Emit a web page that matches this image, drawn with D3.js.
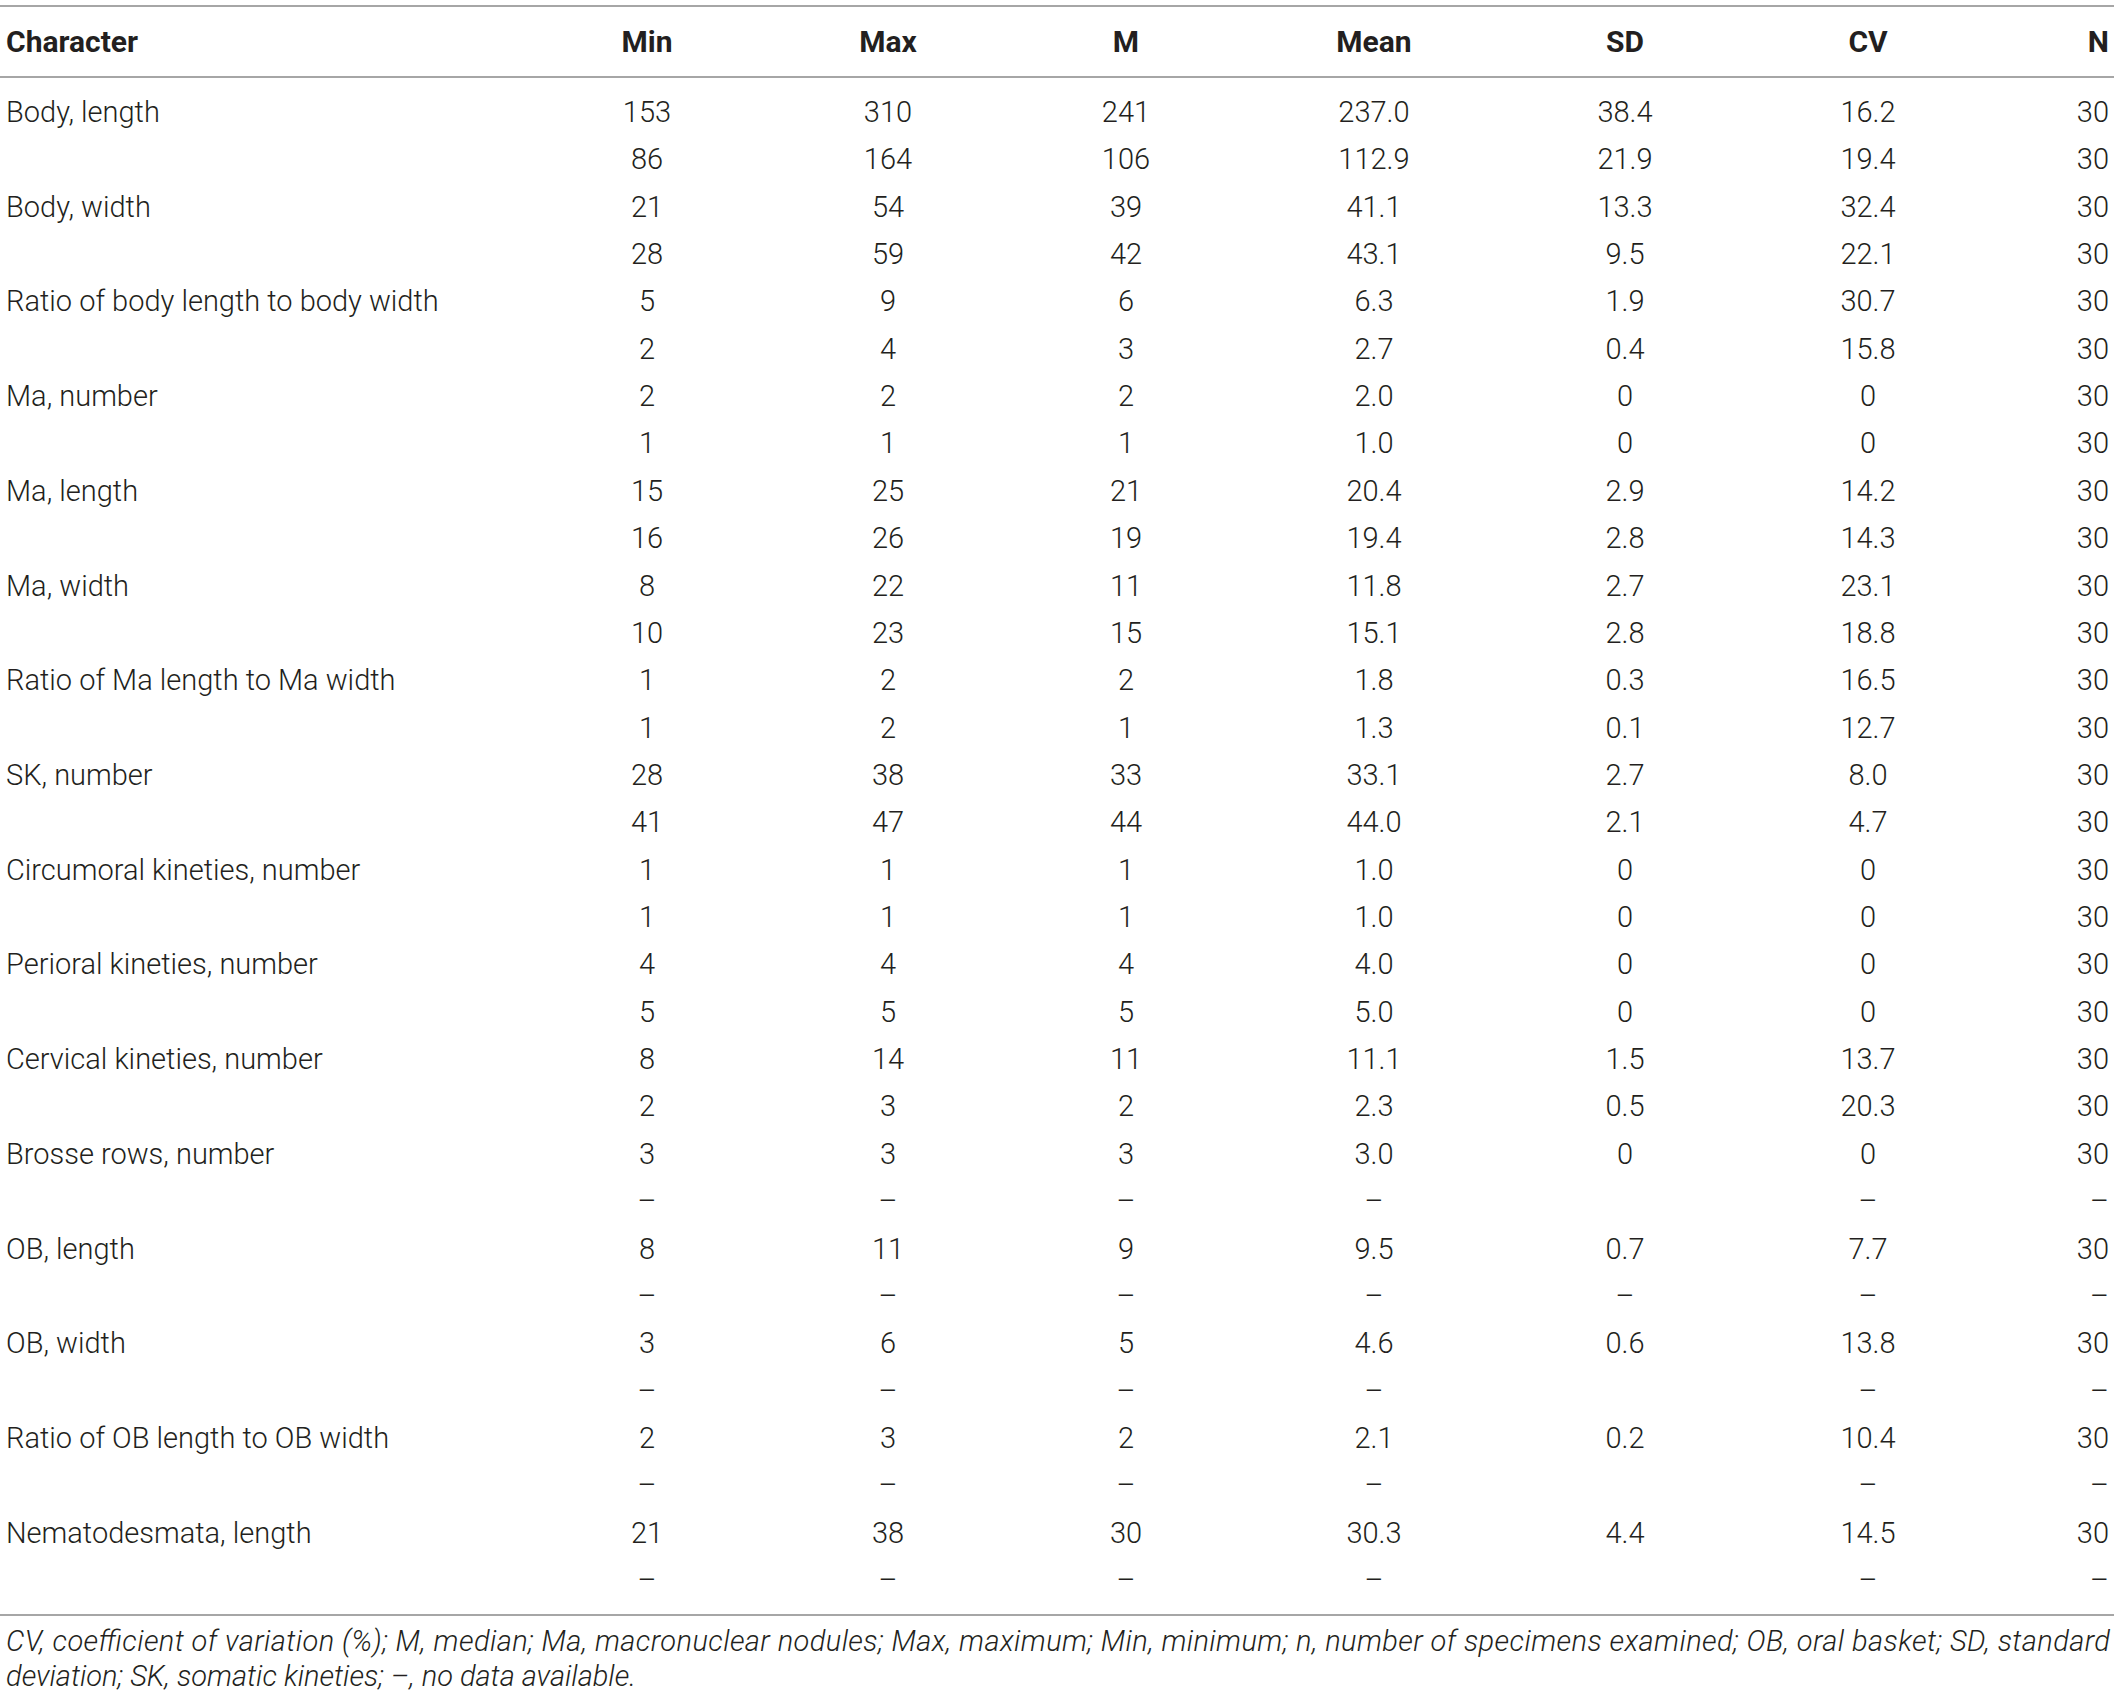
<!DOCTYPE html>
<html>
<head>
<meta charset="utf-8">
<script src="https://cdn.jsdelivr.net/npm/d3@7"></script>
<style>
  body { margin: 0; background: #fff; }
  text { fill: #231f20; }
</style>
</head>
<body>
<script>
var width = 2117;
var height = 1699;

// table data
var columns = ["Min", "Max", "M", "Mean", "SD", "CV", "N"];
var characters = [
  "Body, length", "Body, width", "Ratio of body length to body width",
  "Ma, number", "Ma, length", "Ma, width", "Ratio of Ma length to Ma width",
  "SK, number", "Circumoral kineties, number", "Perioral kineties, number",
  "Cervical kineties, number", "Brosse rows, number", "OB, length",
  "OB, width", "Ratio of OB length to OB width", "Nematodesmata, length"
];
// two rows per character, values in column order
var minVals  = ["153","86","21","28","5","2","2","1","15","16","8","10","1","1","28","41","1","1","4","5","8","2","3","–","8","–","3","–","2","–","21","–"];
var maxVals  = ["310","164","54","59","9","4","2","1","25","26","22","23","2","2","38","47","1","1","4","5","14","3","3","–","11","–","6","–","3","–","38","–"];
var medVals  = ["241","106","39","42","6","3","2","1","21","19","11","15","2","1","33","44","1","1","4","5","11","2","3","–","9","–","5","–","2","–","30","–"];
var meanVals = ["237.0","112.9","41.1","43.1","6.3","2.7","2.0","1.0","20.4","19.4","11.8","15.1","1.8","1.3","33.1","44.0","1.0","1.0","4.0","5.0","11.1","2.3","3.0","–","9.5","–","4.6","–","2.1","–","30.3","–"];
var sdVals   = ["38.4","21.9","13.3","9.5","1.9","0.4","0","0","2.9","2.8","2.7","2.8","0.3","0.1","2.7","2.1","0","0","0","0","1.5","0.5","0","","0.7","–","0.6","","0.2","","4.4",""];
var cvVals   = ["16.2","19.4","32.4","22.1","30.7","15.8","0","0","14.2","14.3","23.1","18.8","16.5","12.7","8.0","4.7","0","0","0","0","13.7","20.3","0","–","7.7","–","13.8","–","10.4","–","14.5","–"];
var nVals    = ["30","30","30","30","30","30","30","30","30","30","30","30","30","30","30","30","30","30","30","30","30","30","30","–","30","–","30","–","30","–","30","–"];
var footnote = [
  "CV, coefficient of variation (%); M, median; Ma, macronuclear nodules; Max, maximum; Min, minimum; n, number of specimens examined; OB, oral basket; SD, standard",
  "deviation; SK, somatic kineties; –, no data available."
];

var seriesByCol = [minVals, maxVals, medVals, meanVals, sdVals, cvVals, nVals];
var rows = d3.range(minVals.length).map(function(i){
  return {
    label: i % 2 === 0 ? characters[i / 2] : "",
    values: seriesByCol.map(function(s){ return s[i]; })
  };
});

var svg = d3.select("body").append("svg")
  .attr("width", width)
  .attr("height", height);

var font = "Roboto, 'Liberation Sans', sans-serif";

var y = d3.scalePoint()
  .domain(d3.range(rows.length))
  .range([112, 1580]);

var x = d3.scaleOrdinal()
  .domain(columns)
  .range([647, 888, 1126, 1374, 1625, 1868, 2109]);

var left = 6;
var right = 2110;

// rules
[6, 77, 1615].forEach(function(ly){
  svg.append("line")
    .attr("x1", 0).attr("x2", right + 4)
    .attr("y1", ly).attr("y2", ly)
    .style("stroke", "#a6a6a6")
    .style("stroke-width", 2);
});

// header
var head = svg.append("g")
  .style("font-family", font)
  .style("font-weight", 700)
  .style("font-size", "30px");

head.append("text")
  .attr("x", left).attr("y", 52)
  .text("Character");

head.selectAll(".colhead")
  .data(columns)
  .enter().append("text")
  .attr("class", "colhead")
  .attr("x", function(d){ return x(d); })
  .attr("y", 52)
  .attr("text-anchor", function(d){ return d === "N" ? "end" : "middle"; })
  .text(function(d){ return d; });

// body
var body = svg.append("g")
  .style("font-family", font)
  .style("font-weight", 300)
  .style("font-size", "29px");

var rowG = body.selectAll(".row")
  .data(rows)
  .enter().append("g")
  .attr("class", "row")
  .attr("transform", function(d, i){ return "translate(0," + (y(i) + 10) + ")"; });

rowG.append("text")
  .attr("x", left)
  .text(function(d){ return d.label; });

rowG.selectAll(".cell")
  .data(function(d){ return d.values.map(function(v, j){ return {col: columns[j], v: v}; }); })
  .enter().append("text")
  .attr("class", "cell")
  .attr("x", function(d){ return x(d.col); })
  .attr("text-anchor", function(d){ return d.col === "N" ? "end" : "middle"; })
  .text(function(d){ return d.v; });

// footnote (first line justified to the table width)
svg.append("g")
  .style("font-family", font)
  .style("font-weight", 300)
  .style("font-style", "italic")
  .style("font-size", "29px")
  .selectAll("text")
  .data(footnote)
  .enter().append("text")
  .attr("x", left)
  .attr("y", function(d, i){ return 1651 + i * 35; })
  .attr("textLength", function(d, i){ return i === 0 ? right - left : null; })
  .attr("lengthAdjust", "spacing")
  .text(function(d){ return d; });
</script>
</body>
</html>
